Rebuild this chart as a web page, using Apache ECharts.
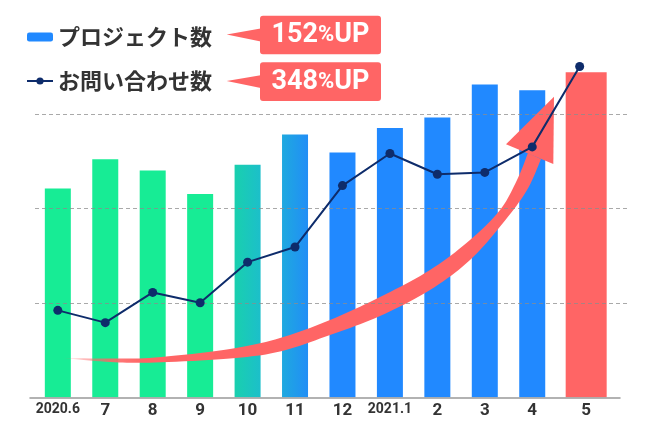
<!DOCTYPE html>
<html>
<head>
<meta charset="utf-8">
<script src="https://cdn.jsdelivr.net/npm/echarts@6/dist/echarts.min.js"></script>
<style>
html, body { margin: 0; padding: 0; background: #fff; }
#main { width: 650px; height: 422px; }
</style>
</head>
<body>
<div id="main"></div>
<script>
// データ
var months = ['2020.6', '7', '8', '9', '10', '11', '12', '2021.1', '2', '3', '4', '5'];
var projects = [221, 252, 240, 215, 246, 278, 259, 285, 296, 331, 325, 344];
var inquiries = [92, 79, 111, 100, 143, 159, 224, 258, 236, 238, 265, 350];
var growth = ['152', '348'];
var seriesNames = ['プロジェクト数', 'お問い合わせ数'];

var GREEN = '#17ec95';
var BLUE = '#2189ff';
var RED = '#ff6565';
var NAVY = '#0e2c6b';
var last = months.length - 1;

function grad(a, b) {
    return new echarts.graphic.LinearGradient(0, 0, 1, 0, [
        { offset: 0, color: a },
        { offset: 1, color: b }
    ]);
}

function barColor(i) {
    if (i < 4) return GREEN;
    if (i === 4) return grad('#19d0ae', '#1cbfca');
    if (i === 5) return grad('#1fa9df', '#218ef6');
    return BLUE;
}

// 矢印（装飾）
var arrowTop = [[63, 358], [110, 358.5], [155, 357.5], [230, 349], [280, 338], [330, 320], [380, 297],
    [430, 270], [470, 240], [500, 210], [517, 180], [528, 153]];
var arrowBottom = [[541, 159], [527, 190], [503, 223], [470, 260], [430, 290], [380, 316], [330, 335],
    [280, 351.5], [230, 358.5], [155, 362.5], [110, 362], [63, 358]];
var arrowHead = [[506, 144.3], [554, 96.7], [553.3, 164]];

// Catmull-Rom で滑らかな点列にする
function smoothPoints(pts) {
    var out = [];
    for (var i = 0; i < pts.length - 1; i++) {
        var p0 = pts[i - 1] || pts[i], p1 = pts[i], p2 = pts[i + 1], p3 = pts[i + 2] || p2;
        var c1 = [p1[0] + (p2[0] - p0[0]) / 6, p1[1] + (p2[1] - p0[1]) / 6];
        var c2 = [p2[0] - (p3[0] - p1[0]) / 6, p2[1] - (p3[1] - p1[1]) / 6];
        for (var k = 0; k < 10; k++) {
            var t = k / 10, u = 1 - t;
            out.push([
                u * u * u * p1[0] + 3 * u * u * t * c1[0] + 3 * u * t * t * c2[0] + t * t * t * p2[0],
                u * u * u * p1[1] + 3 * u * u * t * c1[1] + 3 * u * t * t * c2[1] + t * t * t * p2[1]
            ]);
        }
    }
    out.push(pts[pts.length - 1]);
    return out;
}

var labelFont = 'Roboto, "Liberation Sans", sans-serif';
var cjkFont = '"Noto Sans CJK JP", "Noto Sans", sans-serif';

var graphics = [
    {
        type: 'polygon',
        z: 3,
        shape: { points: smoothPoints(arrowTop).concat(smoothPoints(arrowBottom)) },
        style: {
            fill: new echarts.graphic.LinearGradient(0, 0, 1, 0, [
                { offset: 0, color: 'rgba(255,101,101,0.1)' },
                { offset: 0.1, color: 'rgba(255,101,101,0.85)' },
                { offset: 0.17, color: RED },
                { offset: 1, color: RED }
            ])
        }
    },
    {
        type: 'polygon',
        z: 3,
        shape: { points: arrowHead },
        style: { fill: RED }
    }
];

var boxTops = [15.7, 62.3];
growth.forEach(function (g, i) {
    var y = boxTops[i];
    graphics.push({
        type: 'polygon',
        shape: { points: [[226.7, y + 18.8], [262, y + 12.6], [262, y + 26]] },
        style: { fill: RED }
    });
    graphics.push({
        type: 'rect',
        shape: { x: 260, y: y, width: 121, height: 38.6, r: 3 },
        style: { fill: RED }
    });
    graphics.push({
        type: 'text',
        x: 320.5,
        y: y + 19.8,
        style: {
            text: '{n|' + g + '}{p|%}{n|UP}',
            align: 'center',
            verticalAlign: 'middle',
            rich: {
                n: { fontSize: 27, fontWeight: 'bold', fontFamily: labelFont, fill: '#fff' },
                p: { fontSize: 22, fontWeight: 'bold', fontFamily: labelFont, fill: '#fff' }
            }
        }
    });
});

var chart = echarts.init(document.getElementById('main'));
var option = {
    animation: false,
    backgroundColor: '#fff',
    legend: {
        orient: 'vertical',
        left: 26,
        top: 26,
        padding: 0,
        itemWidth: 26,
        itemHeight: 9,
        itemGap: 22,
        selectedMode: false,
        textStyle: { fontSize: 22, fontWeight: 'bold', color: '#333', fontFamily: cjkFont },
        data: [{ name: seriesNames[0] }, { name: seriesNames[1] }]
    },
    grid: [
        { left: 34.1, right: 46.6, top: 19.3, bottom: 24.7 },
        { left: 30, right: 30, top: 19.3, bottom: 24.7 },
        { left: 35, right: 23, top: 19.3, bottom: 24.7 }
    ],
    xAxis: [
        {
            gridIndex: 0,
            type: 'category',
            data: months,
            axisLine: { show: false },
            axisTick: { show: false },
            axisLabel: {
                margin: 5,
                interval: 0,
                formatter: function (v, i) {
                    if (i === last) return '{l|' + v + '}';
                    return v.length > 2 ? '{s|' + v + '}' : '{b|' + v + '}';
                },
                rich: {
                    s: { fontSize: 14, fontWeight: 'bold', color: '#333', fontFamily: labelFont },
                    b: { fontSize: 17, fontWeight: 'bold', color: '#333', fontFamily: labelFont },
                    l: { fontSize: 17, fontWeight: 'bold', color: '#333', fontFamily: labelFont, padding: [0, 0, 0, 13] }
                }
            }
        },
        {
            gridIndex: 1,
            type: 'value',
            min: 0,
            max: 1,
            z: 5,
            axisLine: { show: true, onZero: false, lineStyle: { color: '#999', width: 1.5 } },
            axisTick: { show: false },
            axisLabel: { show: false },
            splitLine: { show: false }
        },
        { gridIndex: 2, type: 'value', show: false }
    ],
    yAxis: [
        { gridIndex: 0, type: 'value', min: 0, max: 400, show: false },
        { gridIndex: 1, type: 'value', min: 0, max: 400, show: false },
        {
            gridIndex: 2,
            type: 'value',
            min: 0,
            max: 400,
            interval: 100,
            z: 4,
            axisLine: { show: false },
            axisTick: { show: false },
            axisLabel: { show: false },
            splitLine: {
                show: true,
                showMinLine: false,
                showMaxLine: false,
                lineStyle: { color: 'rgba(140,140,140,0.75)', width: 1, type: [4, 3] }
            }
        }
    ],
    graphic: graphics,
    series: [
        {
            name: seriesNames[0],
            type: 'bar',
            xAxisIndex: 0,
            yAxisIndex: 0,
            barWidth: 26,
            itemStyle: { color: BLUE },
            data: projects.map(function (v, i) {
                return i === last ? '-' : { value: v, itemStyle: { color: barColor(i) } };
            }),
            z: 2
        },
        {
            type: 'custom',
            xAxisIndex: 0,
            yAxisIndex: 0,
            z: 2,
            encode: { x: 0, y: 1 },
            data: [[last, projects[last]]],
            renderItem: function (params, api) {
                var top = api.coord([api.value(0), api.value(1)]);
                var base = api.coord([api.value(0), 0]);
                var w = 41;
                return {
                    type: 'rect',
                    shape: { x: top[0] + 6.5 - w / 2, y: top[1], width: w, height: base[1] - top[1] },
                    style: { fill: RED }
                };
            }
        },
        {
            name: seriesNames[1],
            type: 'line',
            xAxisIndex: 0,
            yAxisIndex: 0,
            data: inquiries,
            symbol: 'circle',
            symbolSize: 9,
            lineStyle: { color: NAVY, width: 2 },
            itemStyle: { color: NAVY },
            z: 10
        }
    ]
};
chart.setOption(option);
</script>
</body>
</html>
